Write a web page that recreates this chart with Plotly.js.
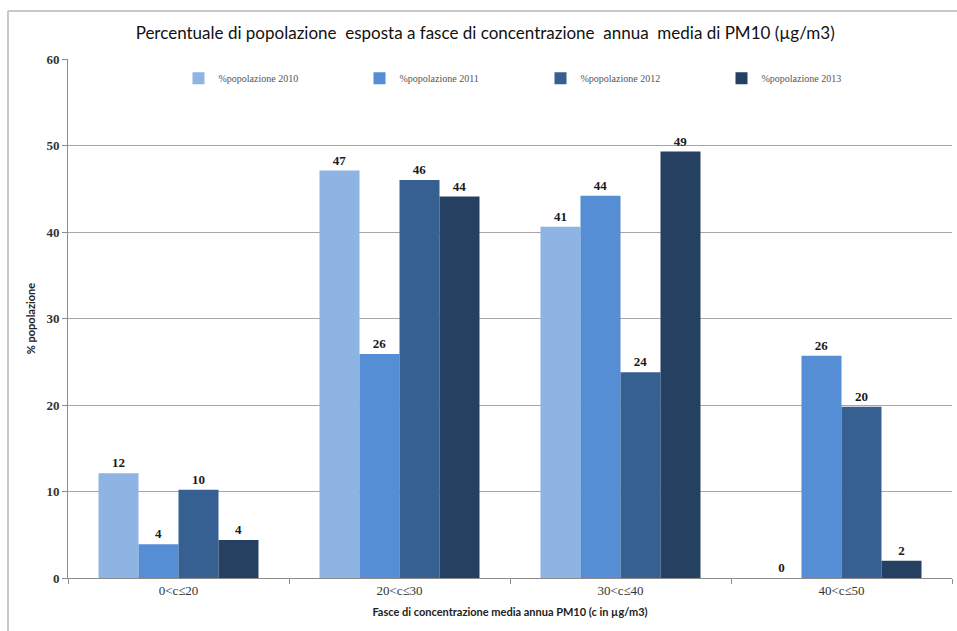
<!DOCTYPE html>
<html>
<head>
<meta charset="utf-8">
<script src="https://cdn.plot.ly/plotly-3.0.1.min.js"></script>
<style>
  html, body { margin: 0; padding: 0; background: #ffffff; }
  #chart { width: 957px; height: 631px; }
</style>
</head>
<body>
<div id="chart"></div>
<script>
// Concentration bands (PM10, µg/m3)
const categories = ['0<c≤20', '20<c≤30', '30<c≤40', '40<c≤50'];

// Share of population exposed (%) per year
const years = ['%popolazione 2010', '%popolazione 2011', '%popolazione 2012', '%popolazione 2013'];
const pop2010 = [12.1, 47.1, 40.6, 0];
const pop2011 = [3.9, 25.9, 44.2, 25.7];
const pop2012 = [10.2, 46.0, 23.8, 19.8];
const pop2013 = [4.4, 44.1, 49.3, 2.0];

const series = [pop2010, pop2011, pop2012, pop2013];
const colors = ['#8db4e2', '#558ed5', '#376092', '#254061'];

const serif = '"Liberation Serif", "DejaVu Serif", serif';
const sans = 'Lato, "Open Sans", sans-serif';

const traces = series.map((vals, i) => ({
  type: 'bar',
  name: years[i],
  x: categories,
  y: vals,
  marker: { color: colors[i], line: { width: 0 } },
  texttemplate: '%{y:.0f}',
  textposition: 'outside',
  cliponaxis: false,
  textfont: { family: serif, size: 13, color: '#1a1a1a', weight: 'bold' },
  hoverinfo: 'skip'
}));

const layout = {
  width: 957,
  height: 631,
  margin: { l: 68, r: 5, t: 59, b: 53 },
  paper_bgcolor: '#ffffff',
  plot_bgcolor: '#ffffff',
  barmode: 'group',
  bargap: 0.276,
  bargroupgap: 0,
  showlegend: true,
  title: {
    text: 'Percentuale di popolazione  esposta a fasce di concentrazione  annua  media di PM10 (µg/m3)',
    font: { family: sans, size: 17, color: '#111111' },
    x: 0.507, xanchor: 'center', xref: 'container',
    y: 0.948, yanchor: 'middle', yref: 'container'
  },
  legend: {
    orientation: 'h',
    x: 0.125, xanchor: 'left',
    y: 0.963, yanchor: 'middle',
    entrywidth: 136, entrywidthmode: 'pixels',
    itemwidth: 30,
    bgcolor: 'rgba(0,0,0,0)',
    font: { family: serif, size: 10, color: '#555555' },
    traceorder: 'normal'
  },
  xaxis: {
    type: 'category',
    showline: true, linecolor: '#8c8c8c', linewidth: 1,
    ticks: 'outside', tickson: 'boundaries', ticklen: 5, tickcolor: '#8c8c8c',
    showgrid: false,
    tickfont: { family: serif, size: 13, color: '#333333' },
    title: {
      text: 'Fasce di concentrazione media annua PM10 (c in µg/m3)',
      font: { family: sans, size: 11, color: '#222222', weight: 'bold' },
      standoff: 11
    },
    fixedrange: true
  },
  yaxis: {
    range: [0, 60], dtick: 10, tick0: 0,
    showline: true, linecolor: '#8c8c8c', linewidth: 1,
    ticks: 'outside', ticklen: 5, tickcolor: '#8c8c8c',
    showgrid: true, gridcolor: '#a6a6a6', gridwidth: 1,
    zeroline: false,
    tickfont: { family: serif, size: 13, color: '#333333', weight: 'bold' },
    title: {
      text: '% popolazione',
      font: { family: sans, size: 11, color: '#222222', weight: 'bold' },
      standoff: 8
    },
    fixedrange: true
  },
  shapes: [
    // frame around the chart area (left and top edges)
    { type: 'line', xref: 'paper', yref: 'paper', x0: -0.0679, x1: -0.0679, y0: 1.0925, y1: -0.12,
      line: { color: '#c8c8c8', width: 2 } },
    { type: 'line', xref: 'paper', yref: 'paper', x0: -0.0679, x1: 1.03, y0: 1.0925, y1: 1.0925,
      line: { color: '#c8c8c8', width: 2 } }
  ]
};

Plotly.newPlot('chart', traces, layout, { staticPlot: true, displayModeBar: false });
</script>
</body>
</html>
